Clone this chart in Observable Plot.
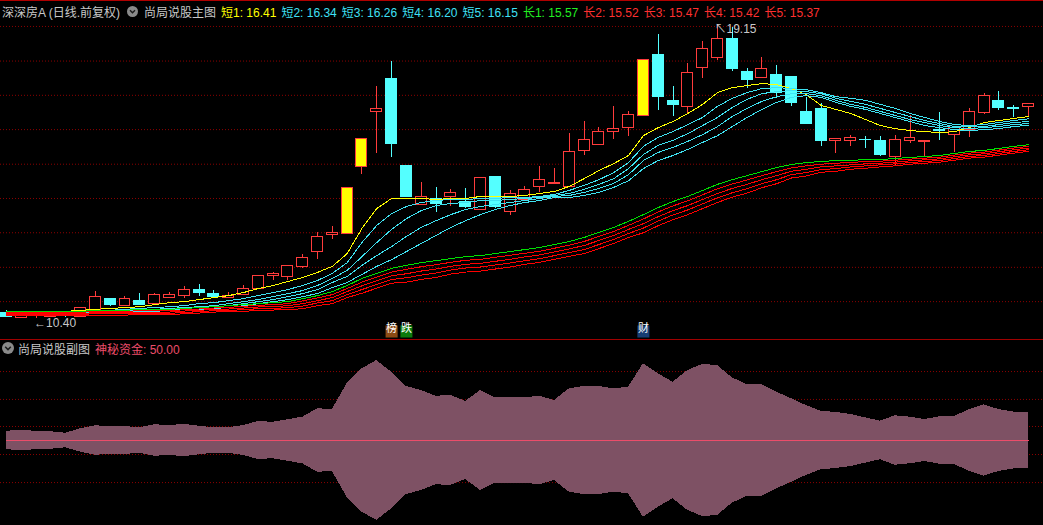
<!DOCTYPE html>
<html><head><meta charset="utf-8">
<script src="https://cdn.jsdelivr.net/npm/d3@7"></script>
<script src="https://cdn.jsdelivr.net/npm/@observablehq/plot@0.6"></script>
<style>
html,body{margin:0;padding:0;background:#000;}
#wrap{position:relative;width:1043px;height:525px;background:#000;overflow:hidden;font-family:"Liberation Sans","Noto Sans CJK SC",sans-serif;font-size:12px;}
#main{position:absolute;left:0;top:0;}
#sub{position:absolute;left:0;top:340px;}
.hdr{position:absolute;height:20px;display:flex;align-items:center;white-space:nowrap;gap:5px;}
#topline{position:absolute;left:0;top:0;width:1043px;height:1px;background:#b00000;}
#sep{position:absolute;left:0;top:339px;width:1043px;height:1px;background:#a00000;}
</style></head>
<body>
<div id="wrap">
  <div id="main"></div>
  <div id="sub"></div>
  <div id="topline"></div>
  <div id="sep"></div>
  <div class="hdr" style="top:1px;left:2px;color:#c8c8c8">深深房A (日线.前复权)</div>
  <div class="hdr" style="top:1px;left:127px"><svg width="11" height="11"><circle cx="5.5" cy="5.5" r="5.5" fill="#8a8a8a"/><polyline points="3,4.3 5.5,6.8 8,4.3" fill="none" stroke="#1a1a1a" stroke-width="1.4"/></svg></div>
  <div class="hdr" style="top:1px;left:144px;color:#c8c8c8">尚局说股主图</div>
  <div class="hdr" id="legend" style="top:1px;left:221px"></div>
  <div class="hdr" style="top:338px;left:2px"><svg width="12" height="12"><circle cx="6" cy="6" r="6" fill="#8a8a8a"/><polyline points="3.2,4.8 6,7.6 8.8,4.8" fill="none" stroke="#1a1a1a" stroke-width="1.5"/></svg></div>
  <div class="hdr" style="top:338px;left:18px;color:#c8c8c8">尚局说股副图</div>
  <div class="hdr" id="sublegend" style="top:338px;left:95px;color:#ec4d6a"></div>
</div>
<script>
// ---------- candles (OHLC) ----------
const open  = [10.55,10.42,10.55,10.44,10.58,10.45,10.64,10.99,10.78,10.93,
               10.84,11.02,11.08,11.26,11.14,11.02,11.11,11.29,11.65,11.62,
               11.92,12.39,12.87,12.90,14.92,16.53,17.54,14.95,13.79,13.94,
               14.00,13.88,13.64,14.62,13.58,13.91,14.30,14.41,14.30,15.37,
               15.55,15.96,16.08,16.41,18.25,16.86,16.68,17.84,18.14,18.73,
               17.72,17.57,17.63,17.60,16.53,16.62,15.67,15.67,15.72,15.67,
               15.19,15.67,15.66,16.01,15.87,16.02,16.50,16.86,16.66,16.68];
const high  = [10.64,10.60,10.62,10.60,10.60,10.74,11.20,11.00,11.05,11.14,
               11.13,11.17,11.35,11.41,11.23,11.17,11.38,11.67,11.77,11.98,
               12.30,12.96,13.14,14.27,15.73,17.30,18.05,14.95,14.45,14.30,
               14.24,14.27,14.59,14.62,14.21,14.33,14.92,14.86,15.90,16.26,
               16.08,16.71,16.56,18.08,18.85,17.30,17.99,18.64,19.15,19.06,
               17.84,18.16,17.93,17.60,16.98,16.80,15.76,15.85,15.81,15.82,
               15.85,16.44,15.68,16.53,16.11,16.65,17.09,17.15,16.74,16.77];
const low   = [10.42,10.42,10.40,10.42,10.44,10.43,10.62,10.75,10.77,10.78,
               10.83,11.00,10.99,11.05,10.99,11.01,11.08,11.28,11.53,11.53,
               11.89,12.15,12.75,12.90,14.68,15.31,15.19,14.00,13.79,13.55,
               13.73,13.67,13.64,13.67,13.46,13.91,14.15,14.41,14.30,15.25,
               15.55,15.73,15.81,16.41,16.59,16.41,16.50,17.54,18.08,17.75,
               17.24,17.57,16.95,16.71,16.17,15.52,15.31,15.52,15.46,15.23,
               14.92,15.61,15.22,15.70,15.34,15.79,16.47,16.59,16.38,16.38];
const close = [10.45,10.58,10.60,10.58,10.50,10.72,11.05,10.81,10.99,10.81,
               11.11,11.11,11.26,11.17,11.05,11.08,11.29,11.65,11.71,11.95,
               12.21,12.81,12.93,14.27,15.73,16.62,15.58,14.00,14.00,13.82,
               14.12,13.73,14.59,13.73,14.09,14.21,14.53,14.42,15.34,15.70,
               15.96,16.05,16.44,18.08,17.00,16.74,17.69,18.43,18.73,17.81,
               17.51,17.81,17.12,16.80,16.20,15.67,15.73,15.76,15.70,15.25,
               15.70,15.76,15.68,15.97,16.08,16.53,17.03,16.65,16.64,16.77];
const limitUp = [23, 24, 43];

// ---------- moving-average lines ----------
const short1 = [10.55,10.58,10.58,10.61,10.61,10.64,10.67,10.70,10.72,10.75,
                10.81,10.87,10.90,10.96,11.02,11.08,11.17,11.29,11.38,11.50,
                11.62,11.77,11.95,12.33,13.08,13.67,13.97,13.97,13.97,13.94,
                13.97,13.97,14.03,14.03,14.03,14.06,14.12,14.18,14.33,14.56,
                14.80,15.01,15.25,15.84,16.08,16.26,16.50,16.77,17.12,17.27,
                17.33,17.39,17.36,17.24,17.06,16.74,16.62,16.50,16.32,16.14,
                16.05,15.99,15.96,15.93,15.96,16.08,16.23,16.29,16.35,16.41];
const short2 = [10.55,10.55,10.58,10.58,10.58,10.61,10.61,10.64,10.67,10.70,
                10.72,10.75,10.78,10.84,10.87,10.93,10.99,11.08,11.17,11.26,
                11.38,11.53,11.74,12.06,12.66,13.17,13.52,13.73,13.85,13.91,
                13.94,13.94,13.97,13.97,14.00,14.00,14.03,14.09,14.21,14.36,
                14.53,14.74,15.04,15.52,15.79,15.96,16.17,16.38,16.71,16.95,
                17.12,17.24,17.27,17.24,17.21,17.12,17.00,16.95,16.89,16.77,
                16.65,16.50,16.38,16.26,16.17,16.14,16.17,16.23,16.29,16.34];
const short3 = [10.52,10.55,10.55,10.55,10.58,10.58,10.61,10.61,10.64,10.64,
                10.67,10.70,10.72,10.75,10.78,10.84,10.90,10.96,11.05,11.14,
                11.23,11.38,11.59,11.83,12.24,12.66,13.05,13.37,13.61,13.76,
                13.82,13.85,13.91,13.91,13.94,13.97,14.00,14.06,14.12,14.24,
                14.39,14.56,14.86,15.28,15.55,15.70,15.90,16.14,16.38,16.68,
                16.92,17.09,17.15,17.18,17.15,17.09,16.95,16.86,16.77,16.65,
                16.53,16.41,16.29,16.20,16.11,16.11,16.11,16.17,16.23,16.26];
const short4 = [10.52,10.52,10.52,10.55,10.55,10.55,10.58,10.58,10.61,10.61,
                10.64,10.67,10.70,10.72,10.75,10.78,10.84,10.90,10.96,11.05,
                11.14,11.26,11.47,11.65,11.98,12.27,12.54,12.84,13.11,13.31,
                13.49,13.64,13.73,13.79,13.85,13.91,13.97,14.03,14.06,14.15,
                14.27,14.42,14.68,15.10,15.34,15.49,15.67,15.87,16.11,16.41,
                16.65,16.86,17.00,17.09,17.09,17.03,16.89,16.77,16.68,16.56,
                16.44,16.32,16.23,16.14,16.08,16.05,16.08,16.11,16.17,16.20];
const short5 = [10.49,10.49,10.52,10.52,10.52,10.55,10.55,10.55,10.58,10.58,
                10.61,10.64,10.67,10.67,10.70,10.72,10.78,10.84,10.90,10.96,
                11.05,11.14,11.32,11.47,11.71,11.95,12.15,12.39,12.63,12.87,
                13.11,13.31,13.49,13.64,13.76,13.85,13.91,14.00,14.00,14.06,
                14.15,14.30,14.50,14.86,15.10,15.25,15.43,15.64,15.84,16.11,
                16.38,16.62,16.83,16.98,17.03,16.98,16.83,16.71,16.62,16.50,
                16.38,16.26,16.14,16.08,16.02,15.99,16.02,16.05,16.11,16.15];
const long1  = [10.61,10.61,10.61,10.61,10.61,10.61,10.64,10.64,10.64,10.67,
                10.67,10.67,10.70,10.72,10.75,10.78,10.81,10.84,10.87,10.90,
                10.99,11.08,11.20,11.38,11.59,11.74,11.89,11.98,12.06,12.12,
                12.18,12.24,12.27,12.33,12.39,12.45,12.51,12.60,12.69,12.81,
                12.96,13.11,13.29,13.49,13.70,13.88,14.03,14.21,14.39,14.53,
                14.65,14.77,14.89,14.98,15.04,15.07,15.10,15.10,15.13,15.13,
                15.16,15.19,15.22,15.25,15.31,15.37,15.40,15.46,15.52,15.57];
const long2  = [10.58,10.58,10.58,10.58,10.58,10.58,10.61,10.61,10.61,10.63,
                10.63,10.63,10.66,10.68,10.71,10.73,10.76,10.79,10.81,10.84,
                10.92,11.01,11.11,11.29,11.48,11.63,11.78,11.86,11.94,12.00,
                12.07,12.13,12.16,12.22,12.28,12.34,12.40,12.49,12.58,12.69,
                12.84,12.99,13.17,13.36,13.57,13.75,13.90,14.08,14.26,14.40,
                14.52,14.65,14.77,14.88,14.94,14.99,15.02,15.04,15.07,15.08,
                15.11,15.14,15.17,15.20,15.26,15.32,15.35,15.41,15.47,15.52];
const long3  = [10.55,10.55,10.55,10.55,10.55,10.55,10.57,10.57,10.57,10.59,
                10.59,10.59,10.62,10.64,10.67,10.68,10.71,10.74,10.75,10.78,
                10.84,10.93,11.02,11.20,11.37,11.52,11.67,11.73,11.81,11.87,
                11.95,12.01,12.04,12.10,12.16,12.23,12.29,12.38,12.47,12.57,
                12.72,12.87,13.05,13.22,13.43,13.61,13.76,13.94,14.12,14.27,
                14.39,14.53,14.65,14.78,14.84,14.91,14.94,14.97,15.00,15.02,
                15.05,15.09,15.12,15.15,15.21,15.27,15.30,15.36,15.42,15.47];
const long4  = [10.52,10.52,10.52,10.52,10.52,10.52,10.54,10.54,10.54,10.55,
                10.55,10.55,10.58,10.60,10.63,10.64,10.66,10.69,10.70,10.72,
                10.77,10.86,10.93,11.11,11.26,11.41,11.56,11.61,11.69,11.75,
                11.84,11.90,11.93,11.99,12.05,12.12,12.18,12.27,12.36,12.45,
                12.60,12.75,12.93,13.09,13.30,13.48,13.63,13.81,13.99,14.14,
                14.26,14.41,14.53,14.68,14.74,14.83,14.86,14.91,14.94,14.97,
                15.00,15.04,15.07,15.10,15.16,15.22,15.25,15.31,15.37,15.42];
const long5  = [10.49,10.49,10.49,10.49,10.49,10.49,10.50,10.50,10.50,10.51,
                10.51,10.51,10.54,10.56,10.59,10.60,10.61,10.64,10.65,10.66,
                10.69,10.78,10.84,11.02,11.15,11.30,11.45,11.48,11.56,11.62,
                11.72,11.78,11.81,11.87,11.93,12.01,12.07,12.16,12.25,12.33,
                12.48,12.63,12.81,12.95,13.16,13.34,13.49,13.67,13.85,14.01,
                14.13,14.29,14.41,14.58,14.64,14.75,14.78,14.84,14.87,14.91,
                14.94,14.99,15.02,15.05,15.11,15.17,15.20,15.26,15.32,15.37];
const maNames = ["短1","短2","短3","短4","短5","长1","长2","长3","长4","长5"];

// grid levels of the main panel (price)
const mainGrid = [19.09, 18.06, 17.04, 16.02, 14.99, 13.97, 12.95, 11.92, 10.90];

// signal markers under the candles
const markerIdx   = [26, 27, 43];
const markerText  = ["榜", "跌", "财"];

// ---------- sub panel ----------
const subCenter = 50;
const subAmp = [5.5,5.9,5.5,5.2,4.3,6.9,8.7,8.3,8.3,7.5,
                9.3,8.9,9.5,8.5,7.5,7.5,8.9,11.2,10.8,12.3,
                13.8,18.8,18.3,33.6,42.4,47.3,40.4,32.0,29.6,26.2,
                26.6,23.1,29.6,25.3,25.6,25.3,26.2,23.7,30.6,32.0,
                32.0,30.6,31.5,45.4,39.5,34.5,41.4,45.0,44.4,37.1,
                33.1,33.1,28.6,24.7,20.7,17.3,16.6,15.4,13.4,11.4,
                14.6,13.8,12.4,14.0,14.2,18.2,21.1,18.3,16.8,16.8];
const subGrid = [90.8, 74.3, 58.3, 41.7, 25.1];

// ---------- build ----------
const n = open.length;
const RED = "#ff3c3c", CYAN = "#54ffff", YEL = "#ffff00";
const candles = open.map((o, i) => {
  const c = close[i];
  const kind = limitUp.includes(i) ? "limit" : (c >= o ? "up" : "down");
  return {i, o, h: high[i], l: low[i], c, kind};
});
const fillOf   = {up: "#000000", down: CYAN, limit: YEL};
const strokeOf = {up: RED, down: CYAN, limit: RED};

const maValues = [short1, short2, short3, short4, short5, long1, long2, long3, long4, long5];
const lineColors = ["#ffff00","#3fe3f2","#3fe3f2","#3fe3f2","#3fe3f2","#00e000","#ff0000","#ff0000","#ff0000","#ff0000"];
const legendColors = ["#ffff00","#3fe0f5","#3fe0f5","#3fe0f5","#3fe0f5","#22ee22","#ff3030","#ff3030","#ff3030","#ff3030"];
const maRows = maValues.flatMap((vals, k) => vals.map((v, i) => ({i, v, name: maNames[k], color: lineColors[k]})));

const markerColors = ["#8b4a14", "#0b7a0b", "#173d72"];
const markers = markerIdx.map((i, k) => ({i, t: markerText[k], c: markerColors[k]}));

const hiIdx = d3.maxIndex(high), loIdx = d3.minIndex(low);
const FONT = "Liberation Sans, Noto Sans CJK SC, sans-serif";

const xOpt = {domain: [0, n - 1], range: [6, 1028], axis: null};

const main = Plot.plot({
  width: 1043, height: 339, margin: 0,
  style: {background: "#000", overflow: "visible"},
  x: xOpt,
  y: {domain: [9.773, 19.862], range: [339, 0], axis: null},
  color: {type: "identity"},
  marks: [
    Plot.ruleY(mainGrid, {stroke: "#8c0000", strokeDasharray: "1,2"}),
    Plot.ruleX(candles, {x: "i", y1: "l", y2: "h", stroke: d => strokeOf[d.kind], shapeRendering: "crispEdges"}),
    Plot.rect(candles, {x1: d => d.i - 0.37, x2: d => d.i + 0.37, y1: "o", y2: "c",
      fill: d => fillOf[d.kind], stroke: d => strokeOf[d.kind], strokeWidth: 1, shapeRendering: "crispEdges"}),
    Plot.line(maRows, {x: "i", y: "v", z: "name", stroke: "color", strokeWidth: 1, shapeRendering: "crispEdges"}),
    Plot.text([{i: hiIdx, v: high[hiIdx]}], {x: "i", y: "v", text: d => "↖" + d.v.toFixed(2),
      textAnchor: "start", dx: -3, dy: 5, fill: "#c8c8c8", fontSize: 12, fontFamily: FONT}),
    Plot.text([{i: loIdx, v: low[loIdx]}], {x: "i", y: "v", text: d => "←" + d.v.toFixed(2),
      textAnchor: "start", dx: -2, dy: 5, fill: "#c8c8c8", fontSize: 12, fontFamily: FONT}),
    Plot.dot(markers, {x: "i", frameAnchor: "bottom", dy: -8, symbol: "square", r: 6.8, fill: "c"}),
    Plot.text(markers, {x: "i", frameAnchor: "bottom", dy: -8, text: "t", fill: "#ffffff", fontSize: 11, fontFamily: FONT})
  ]
});
document.getElementById("main").appendChild(main);

const subRows = subAmp.map((a, i) => ({i, a}));
const sub = Plot.plot({
  width: 1043, height: 185, margin: 0,
  style: {background: "#000", overflow: "visible"},
  x: xOpt,
  y: {domain: [0, 100], range: [184.5, 15.5], axis: null},
  marks: [
    Plot.ruleY(subGrid, {stroke: "#8c0000", strokeDasharray: "1,2"}),
    Plot.areaY(subRows, {x: "i", y1: d => subCenter - d.a, y2: d => subCenter + d.a, fill: "#7e5164", shapeRendering: "crispEdges"}),
    Plot.lineY(subRows, {x: "i", y: () => subCenter, stroke: "#ec4d6a", strokeWidth: 1, shapeRendering: "crispEdges"})
  ]
});
document.getElementById("sub").appendChild(sub);

// legends
const leg = document.getElementById("legend");
maNames.forEach((name, k) => {
  const s = document.createElement("span");
  s.textContent = `${name}: ${maValues[k][n - 1].toFixed(2)}`;
  s.style.color = legendColors[k];
  leg.appendChild(s);
});
document.getElementById("sublegend").textContent = `神秘资金: ${subCenter.toFixed(2)}`;
</script>
</body></html>
